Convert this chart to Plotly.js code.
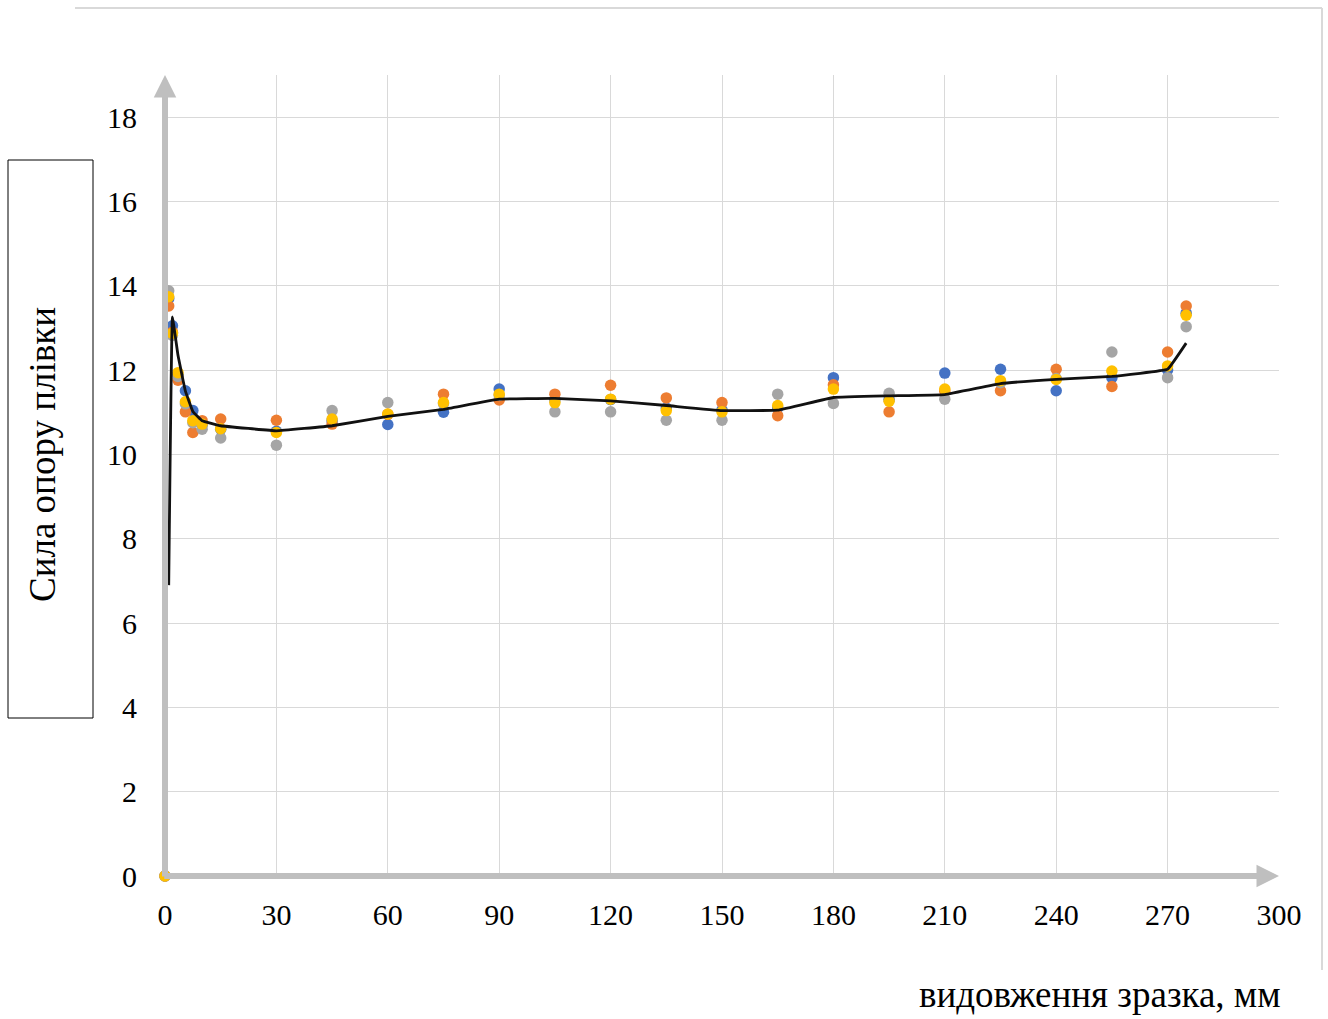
<!DOCTYPE html>
<html>
<head>
<meta charset="utf-8">
<script src="https://cdn.plot.ly/plotly-3.0.1.min.js"></script>
<style>html,body{margin:0;padding:0;background:#fff;}#chart{width:1328px;height:1019px;}</style>
</head>
<body>
<div id="chart"></div>
<script>
// shared x values (elongation, mm)
const xVals = [0, 1, 2, 3.5, 5.5, 7.5, 10, 15, 30, 45, 60, 75, 90, 105, 120, 135, 150, 165, 180, 195, 210, 225, 240, 255, 270, 275];
const blueVals   = [0, 13.7, 13.05, 11.9, 11.51, 11.04, 10.7, 10.6, 10.55, 10.8, 10.71, 11.0, 11.55, 11.3, 11.3, 11.1, 11.05, 11.1, 11.82, 11.3, 11.93, 12.02, 11.51, 11.82, 12.0, 13.35];
const orangeVals = [0, 13.52, 12.9, 11.76, 11.01, 10.52, 10.8, 10.84, 10.81, 10.72, 10.95, 11.43, 11.29, 11.43, 11.64, 11.34, 11.23, 10.92, 11.65, 11.01, 11.5, 11.51, 12.02, 11.61, 12.43, 13.52];
const grayVals   = [0, 13.88, 12.82, 11.85, 11.2, 10.75, 10.6, 10.39, 10.22, 11.04, 11.23, 11.2, 11.4, 11.01, 11.01, 10.81, 10.81, 11.43, 11.21, 11.45, 11.31, 11.7, 11.8, 12.43, 11.82, 13.03];
const yellowVals = [0, 13.74, 12.87, 11.94, 11.25, 10.8, 10.72, 10.61, 10.52, 10.84, 10.96, 11.23, 11.43, 11.23, 11.31, 11.04, 11.01, 11.16, 11.55, 11.26, 11.55, 11.75, 11.78, 11.98, 12.1, 13.3];
// black trend line
const lineX = [1, 2, 3.5, 5.5, 7.5, 10, 15, 30, 45, 60, 75, 90, 105, 120, 135, 150, 165, 180, 195, 210, 225, 240, 255, 270, 275];
const lineVals = [6.9, 13.26, 12.35, 11.5, 11.02, 10.8, 10.68, 10.56, 10.68, 10.9, 11.07, 11.31, 11.33, 11.27, 11.16, 11.04, 11.05, 11.35, 11.39, 11.42, 11.68, 11.78, 11.85, 12.02, 12.64];
const xTicks = [0, 30, 60, 90, 120, 150, 180, 210, 240, 270, 300];
const yTicks = [0, 2, 4, 6, 8, 10, 12, 14, 16, 18];

const mk = (c) => ({color: c, size: 11.5});
const traces = [
  {x: xVals, y: blueVals, mode: 'markers', type: 'scatter', name: 'Серія 1', marker: mk('#4472C4'), cliponaxis: false},
  {x: xVals, y: orangeVals, mode: 'markers', type: 'scatter', name: 'Серія 2', marker: mk('#ED7D31'), cliponaxis: false},
  {x: xVals, y: grayVals, mode: 'markers', type: 'scatter', name: 'Серія 3', marker: mk('#A5A5A5'), cliponaxis: false},
  {x: xVals, y: yellowVals, mode: 'markers', type: 'scatter', name: 'Серія 4', marker: mk('#FFC000'), cliponaxis: false},
  {x: lineX, y: lineVals, mode: 'lines', type: 'scatter', name: 'Тренд', line: {color: '#111', width: 2.8, shape: 'spline', smoothing: 0.2}, cliponaxis: false}
];

const serif = 'Times New Roman';
const P = (px) => (px - 165) / 1114;
const Q = (py) => (876 - py) / 801;
const st = (v) => '<span style="font-family:\'Liberation Serif\',\'Times New Roman\',serif">' + v + '</span>';

const layout = {
  width: 1328, height: 1019,
  margin: {l: 165, r: 49, t: 75, b: 143},
  paper_bgcolor: '#fff', plot_bgcolor: '#fff',
  showlegend: false,
  font: {family: serif, color: '#000', size: 30},
  xaxis: {
    range: [0, 300], tickvals: xTicks, ticktext: xTicks.map(st),
    showgrid: true, gridcolor: '#d9d9d9', gridwidth: 1,
    zeroline: false, showline: false, ticks: '',
    ticklabelstandoff: 18,
    tickfont: {family: serif, size: 30, color: '#000'}
  },
  yaxis: {
    range: [0, 19], tickvals: yTicks, ticktext: yTicks.map(st),
    showgrid: true, gridcolor: '#d9d9d9', gridwidth: 1,
    zeroline: false, showline: false, ticks: '',
    ticklabelstandoff: 27,
    tickfont: {family: serif, size: 30, color: '#000'}
  },
  shapes: [
    {type: 'rect', xref: 'paper', yref: 'paper', x0: P(8), x1: P(93), y0: Q(718), y1: Q(160), line: {color: '#000', width: 1}},
    {type: 'line', xref: 'paper', yref: 'paper', x0: P(75), x1: P(1322), y0: Q(8), y1: Q(8), line: {color: '#d9d9d9', width: 2}},
    {type: 'line', xref: 'paper', yref: 'paper', x0: P(1322), x1: P(1322), y0: Q(8), y1: Q(970), line: {color: '#d9d9d9', width: 2}}
  ],
  annotations: [
    {xref: 'x', yref: 'y', axref: 'x', ayref: 'y', x: 0, y: 19, ax: 0, ay: -0.05, text: '', showarrow: true,
     arrowhead: 2, arrowsize: 0.75, arrowwidth: 6, arrowcolor: '#bfbfbf', standoff: 0, startstandoff: 0},
    {xref: 'x', yref: 'y', axref: 'x', ayref: 'y', x: 300, y: 0, ax: -0.6, ay: 0, text: '', showarrow: true,
     arrowhead: 2, arrowsize: 0.75, arrowwidth: 6, arrowcolor: '#bfbfbf', standoff: 0, startstandoff: 0},
    {xref: 'paper', yref: 'paper', x: P(42), y: Q(455), text: 'Сила опору плівки', textangle: -90, showarrow: false,
     xanchor: 'center', yanchor: 'middle', font: {family: serif, size: 37, color: '#000'}},
    {xref: 'paper', yref: 'paper', x: P(1283), y: Q(995), text: 'видовження зразка, мм', showarrow: false,
     xanchor: 'right', yanchor: 'middle', font: {family: serif, size: 37, color: '#000'}}
  ]
};

Plotly.newPlot('chart', traces, layout, {displayModeBar: false, staticPlot: true});
</script>
</body>
</html>
